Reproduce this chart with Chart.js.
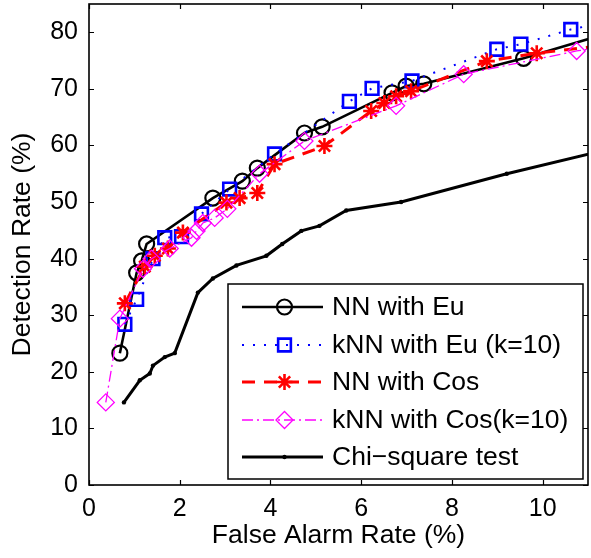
<!DOCTYPE html>
<html>
<head>
<meta charset="utf-8">
<script src="https://cdn.jsdelivr.net/npm/chart.js@4.4.0/dist/chart.umd.min.js"></script>
<style>
  html, body { margin: 0; padding: 0; background: #fff; }
  #wrap { width: 591px; height: 558px; }
</style>
</head>
<body>
<div id="wrap"><canvas id="roc" width="591" height="558"></canvas></div>
<script>
/* ---------- data (false alarm %, detection %) ---------- */

const nnEuX = [0.68, 1.05, 1.16, 1.27, 2.73, 3.38, 3.71, 4.75, 5.14, 6.68, 6.99, 7.38, 9.58, 11.5];
const nnEuY = [23.3, 37.5, 39.6, 42.6, 50.7, 53.7, 56.0, 62.2, 63.3, 69.3, 70.5, 70.9, 75.4, 80.0];

const knnEuX = [0.79, 1.05, 1.41, 1.67, 2.04, 2.48, 3.10, 4.09, 5.74, 6.24, 7.12, 8.99, 9.52, 10.62, 11.4];
const knnEuY = [28.4, 32.8, 40.0, 43.7, 43.9, 47.9, 52.3, 58.5, 67.8, 70.1, 71.4, 77.0, 77.9, 80.5, 81.8];

const nnCosX = [0.79, 1.23, 1.45, 1.74, 2.07, 3.03, 3.32, 3.71, 4.09, 5.19, 6.22, 6.51, 6.77, 7.10, 8.77, 9.87, 11.5];
const nnCosY = [32.1, 38.6, 40.5, 41.8, 44.6, 49.9, 50.7, 51.6, 56.7, 59.9, 66.1, 67.5, 68.7, 69.6, 74.9, 76.3, 77.8];

const knnCosX = [0.37, 0.68, 1.19, 1.38, 1.78, 2.26, 2.37, 2.51, 2.77, 3.05, 3.76, 4.75, 6.77, 8.26, 10.75, 11.5];
const knnCosY = [14.6, 29.4, 38.2, 40.0, 41.8, 43.7, 44.9, 46.3, 47.2, 48.8, 55.0, 60.8, 67.0, 72.6, 76.7, 77.6];

const chiX = [0.77, 1.12, 1.34, 1.41, 1.67, 1.89, 2.40, 2.73, 3.25, 3.91, 4.26, 4.68, 5.08, 5.67, 6.88, 9.21, 11.6];
const chiY = [14.6, 18.5, 19.7, 21.1, 22.6, 23.3, 34.0, 36.5, 38.8, 40.5, 42.6, 44.9, 45.8, 48.5, 50.0, 55.0, 59.6];

const seriesNames = ["NN with Eu", "kNN with Eu (k=10)", "NN with Cos", "kNN with Cos(k=10)", "Chi\u2212square test"];

const xTicks = [0, 2, 4, 6, 8, 10];
const yTicks = [0, 10, 20, 30, 40, 50, 60, 70, 80];

/* ---------- helpers ---------- */

const FONT = "'Liberation Sans', Arial, Helvetica, sans-serif";
const TICK_SIZE = 25;
const TEXT_SIZE = 26.5;

function pts(xs, ys) {
  return xs.map((x, i) => ({ x: x, y: ys[i] }));
}

// draw one marker, used for the legend samples
function marker(ctx, ds, x, y) {
  ctx.save();
  ctx.setLineDash([]);
  ctx.strokeStyle = ds.pointBorderColor;
  ctx.fillStyle = ds.pointBackgroundColor;
  ctx.lineWidth = ds.pointBorderWidth;
  if (Chart.helpers && Chart.helpers.drawPoint) {
    Chart.helpers.drawPoint(ctx, { pointStyle: ds.pointStyle, radius: ds.pointRadius, borderWidth: ds.pointBorderWidth, rotation: 0 }, x, y);
  } else {
    ctx.beginPath();
    ctx.arc(x, y, ds.pointRadius, 0, Math.PI * 2);
    ctx.fill();
    ctx.stroke();
  }
  ctx.restore();
}

/* ---------- axes box, inward ticks and legend (matlab look) ---------- */

const matlabAxes = {
  id: "matlabAxes",
  afterDatasetsDraw(chart) {
    const ctx = chart.ctx;
    const a = chart.chartArea;
    const xs = chart.scales.x, ys = chart.scales.y;
    const tl = 5;

    ctx.save();
    ctx.strokeStyle = "#000";
    ctx.lineWidth = 1.2;
    ctx.beginPath();
    xTicks.forEach(v => {
      const px = Math.round(xs.getPixelForValue(v)) + 0.5;
      ctx.moveTo(px, a.bottom); ctx.lineTo(px, a.bottom - tl);
      ctx.moveTo(px, a.top); ctx.lineTo(px, a.top + tl);
    });
    yTicks.forEach(v => {
      const py = Math.round(ys.getPixelForValue(v)) + 0.5;
      ctx.moveTo(a.left, py); ctx.lineTo(a.left + tl, py);
      ctx.moveTo(a.right, py); ctx.lineTo(a.right - tl, py);
    });
    ctx.stroke();
    ctx.lineWidth = 1.6;
    ctx.strokeRect(a.left, a.top, a.right - a.left, a.bottom - a.top);

    // legend
    const bx = a.left + 139, by = a.top + 280;
    const bw = a.right - 5 - bx, bh = a.bottom - 6 - by;
    ctx.fillStyle = "#fff";
    ctx.fillRect(bx, by, bw, bh);
    ctx.lineWidth = 1.5;
    ctx.strokeRect(bx, by, bw, bh);

    ctx.font = TEXT_SIZE + "px " + FONT;
    ctx.textBaseline = "middle";
    ctx.textAlign = "left";
    chart.data.datasets.forEach((ds, i) => {
      const ry = Math.round(by + 23 + i * 37.5);
      const x0 = bx + 14, x1 = bx + 95, xm = (x0 + x1) / 2 + 2;
      ctx.save();
      ctx.strokeStyle = ds.borderColor;
      ctx.lineWidth = ds.borderWidth;
      ctx.setLineDash(ds.borderDash);
      ctx.beginPath();
      ctx.moveTo(x0, ry); ctx.lineTo(x1, ry);
      ctx.stroke();
      ctx.restore();
      marker(ctx, ds, xm, ry);
      ctx.fillStyle = "#000";
      ctx.fillText(ds.label, bx + 104, ry + 1);
    });
    ctx.restore();
  }
};

/* ---------- chart ---------- */

const datasets = [
  {
    label: seriesNames[0], data: pts(nnEuX, nnEuY),
    borderColor: "#000", borderWidth: 2.6, borderDash: [],
    pointStyle: "circle", pointRadius: 7.5, pointBorderWidth: 2.2,
    pointBorderColor: "#000", pointBackgroundColor: "rgba(0,0,0,0)", order: 5
  },
  {
    label: seriesNames[1], data: pts(knnEuX, knnEuY),
    borderColor: "#0000ff", borderWidth: 2, borderDash: [2, 9],
    pointStyle: "rect", pointRadius: 9, pointBorderWidth: 2.6,
    pointBorderColor: "#0000ff", pointBackgroundColor: "rgba(0,0,0,0)", order: 4
  },
  {
    label: seriesNames[2], data: pts(nnCosX, nnCosY),
    borderColor: "#ff0000", borderWidth: 3, borderDash: [13, 9],
    pointStyle: "star", pointRadius: 8, pointBorderWidth: 2.6,
    pointBorderColor: "#ff0000", pointBackgroundColor: "#ff0000", order: 3
  },
  {
    label: seriesNames[3], data: pts(knnCosX, knnCosY),
    borderColor: "#ff00ff", borderWidth: 1.3, borderDash: [11, 4, 2, 4],
    pointStyle: "rectRot", pointRadius: 8.5, pointBorderWidth: 1.3,
    pointBorderColor: "#ff00ff", pointBackgroundColor: "rgba(0,0,0,0)", order: 2
  },
  {
    label: seriesNames[4], data: pts(chiX, chiY),
    borderColor: "#000", borderWidth: 3, borderDash: [],
    pointStyle: "circle", pointRadius: 2.2, pointBorderWidth: 0,
    pointBorderColor: "#000", pointBackgroundColor: "#000", order: 1
  }
];
datasets.forEach(d => { d.showLine = true; d.tension = 0; d.fill = false; });

const tickFont = { family: FONT, size: TICK_SIZE };
const titleFont = { family: FONT, size: TEXT_SIZE };

new Chart(document.getElementById("roc"), {
  type: "scatter",
  data: { datasets: datasets },
  options: {
    responsive: false,
    animation: false,
    events: [],
    layout: { autoPadding: false, padding: { top: 4, right: 3, left: 0, bottom: 0 } },
    plugins: { legend: { display: false }, tooltip: { enabled: false } },
    scales: {
      x: {
        type: "linear", min: 0, max: 11,
        grid: { display: false, drawTicks: false },
        border: { display: false },
        ticks: { stepSize: 2, includeBounds: false, color: "#000", font: tickFont, padding: 9, maxRotation: 0 },
        title: { display: true, text: "False Alarm Rate (%)", color: "#000", font: titleFont, padding: { top: 0, bottom: 6 } },
        afterFit: s => { s.height = 73; s.paddingLeft = 0; s.paddingRight = 0; }
      },
      y: {
        type: "linear", min: 0, max: 85,
        grid: { display: false, drawTicks: false },
        border: { display: false },
        ticks: { stepSize: 10, includeBounds: false, color: "#000", font: tickFont, padding: 11 },
        title: { display: true, text: "Detection Rate (%)", color: "#000", font: titleFont, padding: { top: 7, bottom: 0 } },
        afterFit: s => { s.width = 89; s.paddingTop = 0; s.paddingBottom = 0; }
      }
    }
  },
  plugins: [matlabAxes]
});
</script>
</body>
</html>
